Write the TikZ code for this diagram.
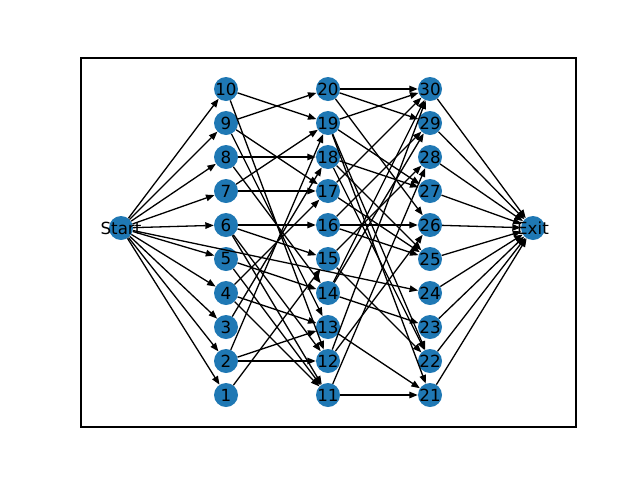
\documentclass[tikz,border=0pt]{standalone}
\usepackage{fontspec}
\setmainfont{DejaVu Sans}
\usetikzlibrary{arrows.meta}
\definecolor{nodeblue}{HTML}{1F78B4}
\begin{document}
\begin{tikzpicture}[x=1pt,y=-1pt,
  vtx/.style={circle,fill=nodeblue,minimum size=24pt,inner sep=0pt},
  lbl/.style={font=\fontsize{16.7}{18}\selectfont,inner sep=0pt},
  edge/.style={-{Triangle[length=8.5pt,width=6.5pt]},line width=1.3pt}]
\useasboundingbox (0,0) rectangle (640,480);
\draw[line width=1.1pt] (81,58) rectangle (576,427);
\node[vtx] (S) at (121,228) {};
\node[vtx] (E) at (533,228) {};
\foreach \k in {1,...,10}{
  \pgfmathsetmacro{\yy}{395-(\k-1)*34}
  \node[vtx] (n\k) at (226,\yy) {};
  \pgfmathtruncatemacro{\b}{\k+10}
  \node[vtx] (n\b) at (328,\yy) {};
  \pgfmathtruncatemacro{\c}{\k+20}
  \node[vtx] (n\c) at (430,\yy) {};
}
\foreach \k in {1,...,10}{\draw[edge] (S) -- (n\k);}
\draw[edge] (S) -- (n24);
\foreach \k in {21,...,30}{\draw[edge] (n\k) -- (E);}
\foreach \a/\b in {10/19,10/12,9/20,9/17,9/13,8/18,8/14,7/19,7/17,6/16,6/15,6/12,6/11,5/14,5/11,4/13,4/11,4/17,3/18,2/13,2/12,2/19,1/15,
  20/30,20/29,20/26,19/30,19/27,19/22,19/21,18/27,18/22,18/25,17/30,17/25,16/26,16/29,16/25,15/28,15/22,14/23,14/29,14/30,13/21,12/26,12/30,11/21,11/28}
  {\draw[edge] (n\a) -- (n\b);}
\node[lbl] (tS) at (S) {Start};
\node[lbl] (tE) at (E) {Exit};
\foreach \k in {1,...,30}{\node[lbl] (t\k) at (n\k) {\k};}
\end{tikzpicture}
\end{document}
